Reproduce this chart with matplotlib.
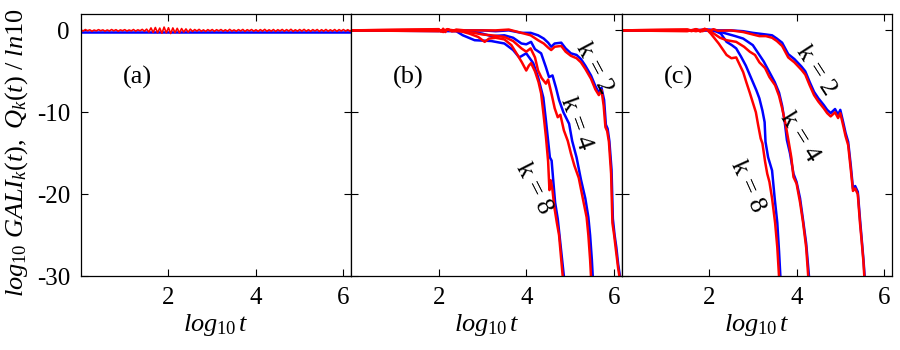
import numpy as np
import matplotlib
matplotlib.use("Agg")
import matplotlib.pyplot as plt

plt.rcParams['font.family'] = ['Liberation Serif', 'DejaVu Serif']
plt.rcParams['mathtext.fontset'] = 'custom'
plt.rcParams['mathtext.it'] = 'Liberation Serif:italic'
plt.rcParams['mathtext.rm'] = 'Liberation Serif'
plt.rcParams['axes.unicode_minus'] = False

# ---------------- data ----------------
# panel (a): regular orbit, all indices stay ~0
a_x = np.round(np.arange(0, 6.201, 0.05), 2)
a_red_y = [0.05,-0.08,0.1,-0.05,0.07,-0.1,0.04,-0.06,0.09,-0.04,0.06,-0.09,0.05,-0.07,0.1,-0.05,0.08,-0.1,0.06,-0.04,
           0.09,-0.08,0.05,-0.06,0.1,-0.09,0.07,-0.05,0.12,-0.1,0.15,
           -0.2,0.3,-0.25,0.35,-0.3,0.28,-0.35,0.4,-0.3,0.32,-0.38,0.3,-0.28,0.25,-0.3,0.22,-0.2,0.18,-0.22,0.15,
           -0.12,0.1,-0.08,0.12,-0.1,0.06,-0.12,0.09,-0.07,0.1,-0.11,0.08,-0.06,0.1,-0.09,0.07,-0.1,0.12,-0.08,0.06,
           -0.1,0.09,-0.07,0.11,-0.12,0.08,-0.06,0.1,-0.09,0.07,
           -0.11,0.09,-0.08,0.12,-0.1,0.07,-0.09,0.1,-0.12,0.08,
           -0.07,0.11,-0.1,0.09,-0.08,0.13,-0.11,0.07,-0.09,0.1,
           -0.08,0.12,-0.1,0.08,-0.11,0.09,-0.07,0.1,-0.12,0.08,
           -0.09,0.11,-0.1,0.07,-0.08,0.1,-0.11,0.09,-0.07,0.1,
           -0.09,0.08,-0.1,0.06]
a_blue_x = [0.0, 6.2]
a_blue_y = [-0.2, -0.2]

# panel (b)
b_k2_blue_x = [0,3.0,3.3,3.6,3.89,4.1,4.27,4.4,4.5,4.57,4.65,4.8,4.9,5.02,5.15,5.25,5.35,5.48,5.58,5.66,5.72,5.78,5.82,5.86,5.9,5.95,5.98,6.02,6.06,6.1,6.17]
b_k2_blue_y = [0,0,-0.1,0,-0.3,-0.3,-0.6,-1.0,-1.5,-2.0,-1.6,-1.5,-2.2,-2.8,-3.0,-3.5,-4.3,-5.5,-6.8,-7.6,-7.0,-8.5,-11.5,-12.0,-13.5,-17,-23,-25,-26.5,-28.5,-31]
b_k2_red_x = [0,2.0,2.05,2.1,2.15,2.2,2.3,2.4,2.6,3.0,3.3,3.6,3.89,4.1,4.27,4.4,4.5,4.57,4.65,4.8,4.9,5.02,5.15,5.25,5.35,5.48,5.58,5.66,5.72,5.77,5.81,5.85,5.89,5.94,5.97,6.01,6.05,6.1,6.16]
b_k2_red_y = [0,0.15,-0.15,0.2,-0.2,0.15,-0.1,0.1,0,0,0,0.1,-0.3,-0.6,-1.2,-1.6,-2.1,-2.4,-2.0,-1.9,-2.6,-3.1,-3.4,-3.9,-4.7,-5.9,-7.2,-7.9,-7.3,-9.2,-11.8,-12.3,-13.6,-17.5,-23.5,-25,-26.8,-29,-31]
b_k4_blue_x = [0,2.5,2.8,3.0,3.2,3.5,3.7,3.89,4.0,4.11,4.2,4.34,4.45,4.52,4.6,4.68,4.75,4.85,4.98,5.05,5.15,5.25,5.35,5.42,5.46,5.5,5.53]
b_k4_blue_y = [0,0,-0.2,-0.4,-0.7,-0.6,-0.9,-1.6,-1.7,-1.4,-2.3,-2.8,-4.5,-5.7,-5.5,-7.0,-8.5,-10,-11.4,-13.5,-15.5,-18.2,-20.5,-22.8,-25,-28,-31]
b_k4_red_x = [0,2.0,2.2,2.5,2.8,3.0,3.2,3.5,3.7,3.89,4.0,4.1,4.2,4.27,4.35,4.45,4.5,4.58,4.65,4.72,4.78,4.86,4.95,5.02,5.1,5.2,5.3,5.38,5.42,5.46,5.49]
b_k4_red_y = [0,-0.1,0.1,-0.1,-0.3,-0.5,-0.6,-0.8,-1.3,-2.2,-2.6,-2.2,-3.3,-4.9,-5.8,-6.5,-6.0,-7.8,-9.5,-10.6,-10.3,-12.2,-13.5,-15,-16.5,-18.0,-20.7,-22.8,-25,-28,-31]
b_k8_blue_x = [0,2.4,2.55,2.82,3.2,3.5,3.7,3.84,4.0,4.16,4.27,4.39,4.45,4.5,4.54,4.58,4.62,4.66,4.72,4.78,4.83,4.88]
b_k8_blue_y = [0,-0.1,-0.6,-1.2,-1.3,-1.6,-2.4,-3.3,-2.8,-4.0,-5.7,-8.2,-11,-13.5,-15.5,-15.9,-18.5,-21,-23,-26,-28.5,-31]
b_k8_red_x = [0,2.0,2.1,2.2,2.3,2.5,2.7,2.9,3.05,3.15,3.3,3.5,3.66,3.8,3.9,4.0,4.06,4.11,4.2,4.28,4.34,4.4,4.45,4.5,4.53,4.56,4.6,4.64,4.7,4.75,4.8,4.85]
b_k8_red_y = [0,0.1,-0.2,0.15,-0.1,-0.1,-0.4,-0.8,-1.4,-1.0,-0.9,-1.1,-1.8,-3.0,-3.9,-4.9,-4.3,-4.0,-5.0,-6.3,-7.7,-10.5,-13,-16,-19.5,-18.3,-19.5,-21.5,-23.5,-25,-28,-31]

# panel (c)
c_k2_blue_x = [0,1.5,2.0,2.2,2.5,2.78,3.0,3.15,3.3,3.44,3.55,3.67,3.81,3.95,4.11,4.2,4.3,4.4,4.5,4.62,4.7,4.78,4.88,4.95,5.0,5.07,5.12,5.18,5.24,5.29,5.34,5.4,5.45,5.49,5.53,5.57]
c_k2_blue_y = [0,0,0.1,0,0,-0.1,-0.3,-0.4,-0.5,-0.6,-1.0,-1.5,-2.9,-3.5,-4.4,-5.0,-6.3,-7.5,-8.3,-9.1,-9.7,-10.1,-9.6,-10.3,-9.7,-11.3,-12.5,-13.6,-16.5,-19.3,-19.0,-19.7,-23,-25.5,-28,-31]
c_k2_red_x = [0,1.5,1.6,1.7,1.8,1.9,2.0,2.1,2.2,2.5,2.78,3.0,3.15,3.3,3.44,3.55,3.67,3.81,3.95,4.11,4.2,4.3,4.4,4.5,4.62,4.7,4.78,4.88,4.95,5.0,5.07,5.12,5.18,5.24,5.29,5.34,5.4,5.45,5.49,5.53,5.56]
c_k2_red_y = [0,0.1,-0.1,0.15,-0.15,0.2,-0.1,0.15,-0.05,0,-0.2,-0.5,-0.7,-0.7,-0.9,-1.3,-1.9,-3.3,-3.9,-4.8,-5.4,-6.7,-7.9,-8.7,-9.5,-10.1,-10.5,-10.0,-10.7,-10.1,-11.7,-12.9,-14.0,-17,-19.6,-19.3,-20.0,-23.5,-25.8,-28.3,-31]
c_k4_blue_x = [0,2.0,2.2,2.4,2.6,2.78,3.0,3.15,3.25,3.38,3.5,3.6,3.67,3.73,3.78,3.85,3.93,4.0,4.08,4.15,4.22,4.3]
c_k4_blue_y = [0,0,-0.1,-0.4,-0.7,-1.0,-1.8,-3.0,-3.8,-5.1,-6.3,-7.6,-9.2,-11.2,-13.4,-15,-17.5,-18.5,-20.5,-23.2,-26,-31]
c_k4_red_x = [0,1.5,1.7,1.9,2.0,2.11,2.25,2.4,2.62,2.8,2.93,3.05,3.15,3.28,3.38,3.51,3.6,3.67,3.75,3.82,3.88,3.93,4.0,4.08,4.15,4.22,4.28]
c_k4_red_y = [0,0.1,-0.1,0.15,0,-0.4,-0.9,-1.2,-1.4,-2.0,-2.6,-3.0,-3.9,-4.6,-5.7,-6.7,-8.0,-9.5,-11.5,-13.6,-15.5,-17.9,-18.7,-21,-23.5,-26.5,-31]
c_k8_blue_x = [0,2.0,2.15,2.27,2.4,2.52,2.62,2.73,2.84,2.92,3.0,3.08,3.15,3.22,3.27,3.29,3.35,3.44,3.5,3.56,3.6,3.64]
c_k8_blue_y = [0,0,-0.1,-0.4,-1.4,-1.8,-2.2,-3.2,-4.3,-5.3,-6.3,-7.3,-8.3,-9.8,-11.2,-13.6,-15.5,-17.1,-20.5,-23.5,-27,-31]
c_k8_red_x = [0,1.5,1.7,1.85,1.95,2.04,2.22,2.4,2.51,2.62,2.7,2.78,2.85,2.93,3.0,3.07,3.12,3.18,3.22,3.28,3.33,3.38,3.44,3.51,3.56,3.61]
c_k8_red_y = [0,-0.1,0.15,-0.1,0.1,-0.4,-1.6,-3.0,-3.4,-3.3,-4.2,-5.1,-6.3,-7.6,-8.8,-10,-11.5,-13.2,-13.8,-16,-17.5,-18.5,-20.5,-23.5,-26.5,-31]

k_labels = ['k = 2', 'k = 4', 'k = 8']
b_label_pos = [(5.55, -4.6, -62), (5.14, -11.4, -70), (4.18, -19.3, -63)]
c_label_pos = [(4.45, -4.9, -57), (4.07, -13.0, -58), (2.89, -19.1, -66)]
panel_names = ['(a)', '(b)', '(c)']

# ---------------- figure ----------------
BLUE = '#0000ff'
RED = '#ff0000'
FS = 18

fig, axes = plt.subplots(1, 3, figsize=(9, 3.5), dpi=100, sharey=True)
fig.subplots_adjust(left=0.09, right=0.991, bottom=0.211, top=0.96, wspace=0)

lw = 1.8
ax = axes[0]
ax.plot(a_blue_x, a_blue_y, color=BLUE, lw=lw)
ax.plot(a_x, a_red_y, color=RED, lw=1.2)

ax = axes[1]
for bx, by in [(b_k2_blue_x, b_k2_blue_y), (b_k4_blue_x, b_k4_blue_y), (b_k8_blue_x, b_k8_blue_y)]:
    ax.plot(bx, by, color=BLUE, lw=lw)
for rx, ry in [(b_k2_red_x, b_k2_red_y), (b_k4_red_x, b_k4_red_y), (b_k8_red_x, b_k8_red_y)]:
    ax.plot(rx, ry, color=RED, lw=lw)
for lab, (x, y, r) in zip(k_labels, b_label_pos):
    ax.text(x, y, lab, fontsize=19, rotation=r, ha='center', va='center',
            rotation_mode='anchor')

ax = axes[2]
for bx, by in [(c_k2_blue_x, c_k2_blue_y), (c_k4_blue_x, c_k4_blue_y), (c_k8_blue_x, c_k8_blue_y)]:
    ax.plot(bx, by, color=BLUE, lw=lw)
for rx, ry in [(c_k2_red_x, c_k2_red_y), (c_k4_red_x, c_k4_red_y), (c_k8_red_x, c_k8_red_y)]:
    ax.plot(rx, ry, color=RED, lw=lw)
for lab, (x, y, r) in zip(k_labels, c_label_pos):
    ax.text(x, y, lab, fontsize=19, rotation=r, ha='center', va='center',
            rotation_mode='anchor')

for ax, name in zip(axes, panel_names):
    ax.set_xlim(0, 6.18)
    ax.set_ylim(-30, 2)
    ax.set_xticks([2, 4, 6])
    ax.set_yticks([0, -10, -20, -30])
    ax.tick_params(direction='in', length=5, width=0.8, top=True, right=True,
                   labelsize=FS, pad=8)
    for s in ax.spines.values():
        s.set_linewidth(0.9)
    ax.text(1.3, -5.7, name, fontsize=19, ha='center', va='center')
    ax.set_xlabel(r'$log_{10}\,t$', fontsize=19, labelpad=2)

axes[0].set_ylabel(r'$log_{10}\ GALI_k(t),\ Q_k(t)\ /\ ln10$', fontsize=19)
axes[0].yaxis.set_label_coords(-0.19, 0.47)

fig.savefig('out.png', dpi=100)
